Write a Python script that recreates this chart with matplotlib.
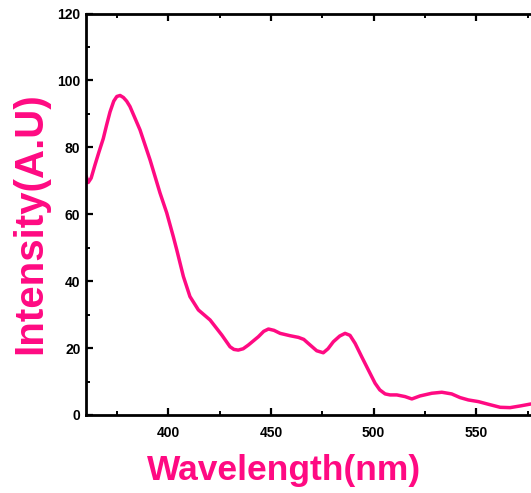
import matplotlib
matplotlib.use("Agg")
import matplotlib.pyplot as plt
from matplotlib.ticker import MultipleLocator

wavelength = [360.0, 361.1, 362.5, 364.4, 366.3, 368.4, 370.0, 371.7, 373.5, 375.0, 376.6,
              378.2, 379.8, 381.4, 386.3, 391.2, 396.0, 399.3, 402.5, 404.2, 407.4, 410.6,
              414.7, 420.4, 426.1, 430.1, 432.0, 434.1, 436.5, 439.0, 443.9, 446.5, 448.8,
              451.5, 454.5, 459.3, 463.4, 466.0, 468.2, 472.3, 475.5, 477.8, 480.4, 483.5,
              486.1, 488.5, 491.0, 494.2, 497.4, 500.7, 503.0, 505.6, 508.0, 511.3, 515.3,
              518.6, 522.6, 528.3, 533.2, 538.0, 542.1, 546.1, 551.0, 555.9, 561.6, 566.4,
              571.3, 576.6]
intensity = [71.5, 69.5, 70.8, 74.8, 78.6, 82.6, 86.6, 90.6, 93.8, 95.2, 95.5,
             94.9, 93.8, 92.2, 85.2, 76.2, 66.4, 60.4, 53.3, 49.3, 41.4, 35.4,
             31.4, 28.4, 23.9, 20.4, 19.6, 19.4, 19.8, 20.9, 23.4, 25.0, 25.7,
             25.3, 24.4, 23.7, 23.2, 22.6, 21.4, 19.2, 18.6, 19.8, 21.9, 23.6,
             24.4, 23.8, 21.4, 17.4, 13.5, 9.5, 7.5, 6.3, 6.0, 6.0, 5.5,
             4.8, 5.7, 6.5, 6.8, 6.3, 5.2, 4.5, 4.0, 3.2, 2.3, 2.2,
             2.7, 3.3]

x_ticks = [400, 450, 500, 550]
y_ticks = [0, 20, 40, 60, 80, 100, 120]

pink = '#ff0a82'
plt.rcParams['font.family'] = ['Liberation Sans', 'DejaVu Sans']

fig = plt.figure(figsize=(5.31, 4.93), dpi=100)
ax = fig.add_axes([86 / 531, 1 - 415 / 493, 1 - 86 / 531, (415 - 13.5) / 493])
ax.plot(wavelength, intensity, color=pink, lw=2.5, solid_joinstyle='round', solid_capstyle='round')

ax.set_xlim(360, 576.6)
ax.set_ylim(0, 120)
ax.set_xticks(x_ticks)
ax.set_yticks(y_ticks)
ax.xaxis.set_minor_locator(MultipleLocator(25))
ax.yaxis.set_minor_locator(MultipleLocator(10))

for s in ['left', 'bottom', 'top']:
    ax.spines[s].set_linewidth(2.0)
ax.spines['right'].set_visible(False)

ax.tick_params(axis='both', which='major', direction='in', length=5, width=1.6,
               labelsize=10, top=True, right=False)
ax.tick_params(axis='both', which='minor', direction='in', length=3, width=1.4,
               top=True, right=False)
ax.tick_params(axis='x', which='both', top=True)
ax.tick_params(axis='x', which='major', pad=8)
ax.tick_params(axis='y', which='major', pad=4)
for lbl in ax.get_xticklabels() + ax.get_yticklabels():
    lbl.set_fontweight('bold')

ax.set_xlabel('Wavelength(nm)', fontsize=25.5, fontweight='bold', color=pink)
ax.set_ylabel('Intensity(A.U)', fontsize=29, fontweight='bold', color=pink)
ax.xaxis.set_label_coords(0.445, -0.098)
ax.yaxis.set_label_coords(-0.082, 0.477)

fig.savefig('out.png', dpi=100)
